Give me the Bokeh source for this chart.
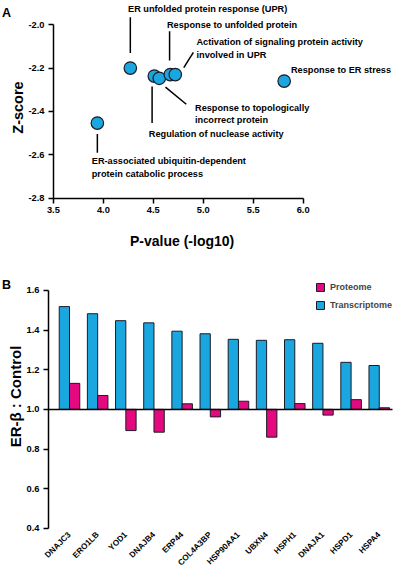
import numpy as np
from math import pi
from bokeh.plotting import figure
from bokeh.models import (ColumnDataSource, Range1d, FixedTicker, PrintfTickFormatter,
                          Label, Legend, LegendItem, LinearAxis)
from bokeh.layouts import column
from bokeh.embed import file_html
from bokeh.resources import INLINE
from bokeh.core.properties import value

# ---------------- data: panel A ----------------
terms = [
    "ER unfolded protein response (UPR)",
    "Regulation of nuclease activity",
    "Response to topologically\nincorrect protein",
    "Response to unfolded protein",
    "Activation of signaling protein activity\ninvolved in UPR",
    "Response to ER stress",
    "ER-associated ubiquitin-dependent\nprotein catabolic process",
]
pvalue_log10 = [4.27, 4.51, 4.56, 4.67, 4.72, 5.81, 3.94]
zscore = [-2.20, -2.237, -2.247, -2.23, -2.23, -2.26, -2.454]
x_ticks_a = [3.5, 4.0, 4.5, 5.0, 5.5, 6.0]
y_ticks_a = [-2.8, -2.6, -2.4, -2.2, -2.0]

# ---------------- data: panel B ----------------
genes = ["DNAJC3", "ERO1LB", "YOD1", "DNAJB4", "ERP44", "COL4A3BP",
         "HSP90AA1", "UBXN4", "HSPH1", "DNAJA1", "HSPD1", "HSPA4"]
transcriptome = [1.518, 1.482, 1.447, 1.436, 1.394, 1.381,
                 1.353, 1.348, 1.351, 1.333, 1.237, 1.221]
proteome = [1.131, 1.070, 0.893, 0.885, 1.028, 0.962,
            1.041, 0.860, 1.029, 0.971, 1.049, 1.008]
y_ticks_b = [0.4, 0.6, 0.8, 1.0, 1.2, 1.4, 1.6]
baseline = 1.0

# ---------------- styles ----------------
FONT = "Liberation Sans"
BLUE = "#1AA7E0"
PINK = "#E4097F"
EDGE = "#1c1c28"
W = 395

# label layout (screen pixel offsets relative to each point; y downwards)
text_dx = [-2.3, -5.5, 35.7, -3.3, 21.2, 6.8, -5.6]
text_dy = [-58.6, 57.4, 35.5, -49.1, -26.2, -10.9, 44.3]
lead = [  # (dx0, dy0, dx1, dy1) in px, None = no leader
    (0.0, -50.8, 0.0, -15.1),
    (-2.2, 10.3, -2.2, 47.0),
    (6.2, 8.8, 27.0, 26.0),
    (-0.7, -43.3, -0.7, -14.1),
    (18.1, -22.3, 8.5, -7.0),
    None,
    (0.0, 10.8, 0.0, 29.7),
]


def style_axis(ax, label_size="9.3px"):
    ax.axis_line_width = 1.5
    ax.axis_line_color = "black"
    ax.major_tick_line_width = 1.5
    ax.major_tick_line_color = "black"
    ax.major_tick_in = 0
    ax.major_tick_out = 5
    ax.minor_tick_line_color = None
    ax.major_label_text_font = FONT
    ax.major_label_text_font_style = "bold"
    ax.major_label_text_font_size = label_size
    ax.major_label_text_color = "black"
    ax.major_label_standoff = 4


def base_fig(w, h, xr, yr):
    p = figure(width=w, height=h, x_range=xr, y_range=yr,
               output_backend="svg", toolbar_location=None,
               min_border_left=0, min_border_right=0,
               min_border_top=0, min_border_bottom=0)
    p.xgrid.visible = False
    p.ygrid.visible = False
    p.outline_line_color = None
    return p


def screen_label(p, h, x, y_from_top, text, size, angle=0.0, align="left"):
    p.add_layout(Label(x=x, y=h - y_from_top, x_units="screen", y_units="screen",
                       text=text, angle=angle, text_font=FONT, text_font_style="bold",
                       text_font_size=size, text_color="black",
                       text_align=align, text_baseline="alphabetic"))


# ---------------- panel A ----------------
A_H = 272
ppx_a, ppy_a = 99.9, 216.5          # px per data unit
ax_left_px, ax_bottom_px = 52.9, 197.5  # where the axes sit
xa0 = x_ticks_a[0] - ax_left_px / ppx_a
ya0 = y_ticks_a[0] - (A_H - ax_bottom_px) / ppy_a
pa = base_fig(W, A_H, Range1d(xa0, xa0 + W / ppx_a), Range1d(ya0, ya0 + A_H / ppy_a))
for ax in (pa.xaxis + pa.yaxis):
    style_axis(ax)
pa.xaxis.fixed_location = y_ticks_a[0]
pa.yaxis.fixed_location = x_ticks_a[0]
pa.xaxis.bounds = (x_ticks_a[0], x_ticks_a[-1])
pa.yaxis.bounds = (y_ticks_a[0], y_ticks_a[-1])
pa.xaxis.ticker = FixedTicker(ticks=x_ticks_a)
pa.yaxis.ticker = FixedTicker(ticks=y_ticks_a)
pa.xaxis.formatter = PrintfTickFormatter(format="%.1f")
pa.yaxis.formatter = PrintfTickFormatter(format="%.1f")

x0s, y0s, x1s, y1s = [], [], [], []
for i, ld in enumerate(lead):
    if ld is None:
        continue
    dx0, dy0, dx1, dy1 = ld
    x0s.append(pvalue_log10[i] + dx0 / ppx_a)
    y0s.append(zscore[i] - dy0 / ppy_a)
    x1s.append(pvalue_log10[i] + dx1 / ppx_a)
    y1s.append(zscore[i] - dy1 / ppy_a)
pa.segment(x0=x0s, y0=y0s, x1=x1s, y1=y1s, line_color="black", line_width=1.5)

src_a = ColumnDataSource(dict(x=pvalue_log10, y=zscore, text=terms, dx=text_dx, dy=text_dy))
pa.scatter("x", "y", source=src_a, size=12.5, fill_color=BLUE, line_color=EDGE, line_width=1.2)
pa.text("x", "y", text="text", x_offset="dx", y_offset="dy", source=src_a,
        text_font=value(FONT), text_font_style="bold", text_font_size="9.2px",
        text_align="left", text_baseline="middle", text_line_height=1.25,
        text_color="black")

screen_label(pa, A_H, 181.6, 240.6, "P-value (-log10)", "14px", align="center")
screen_label(pa, A_H, 17.3, 107.0, "Z-score", "14.5px", angle=pi / 2, align="center")
screen_label(pa, A_H, 1.6, 12.9, "A", "12.5px")

# ---------------- panel B ----------------
B_H = 296
ppx_b, ppy_b = 28.16, 198.4
first_center_px = 69.0
yaxis_px, axis_bottom_px, base_end_px = 48.0, 255.9, 392.0
xb0 = -first_center_px / ppx_b
yb0 = y_ticks_b[0] - (B_H - axis_bottom_px) / ppy_b
pb = base_fig(W, B_H, Range1d(xb0, xb0 + W / ppx_b), Range1d(yb0, yb0 + B_H / ppy_b))
yaxis_loc = xb0 + yaxis_px / ppx_b
base_end = xb0 + base_end_px / ppx_b

for ax in (pb.xaxis + pb.yaxis):
    style_axis(ax)
pb.yaxis.fixed_location = yaxis_loc
pb.yaxis.bounds = (y_ticks_b[0], y_ticks_b[-1])
pb.yaxis.ticker = FixedTicker(ticks=y_ticks_b)
pb.yaxis.formatter = PrintfTickFormatter(format="%.1f")

idx = np.arange(len(genes))
pb.xaxis.fixed_location = y_ticks_b[0]
pb.xaxis.ticker = FixedTicker(ticks=list(idx))
pb.xaxis.major_label_overrides = {int(i): g for i, g in zip(idx, genes)}
pb.xaxis.major_label_orientation = pi / 4
pb.xaxis.axis_line_color = None
pb.xaxis.major_tick_line_color = None
pb.xaxis.major_tick_out = 0
pb.xaxis.major_label_text_font_size = "8.2px"
pb.xaxis.major_label_standoff = 5

# baseline (ratio = 1) drawn as a plain axis line
base_axis = LinearAxis(fixed_location=baseline, bounds=(yaxis_loc, base_end),
                       ticker=FixedTicker(ticks=[]), axis_line_width=1.5,
                       axis_line_color="black", major_tick_line_color=None,
                       minor_tick_line_color=None, major_label_text_font_size="0px")
pb.add_layout(base_axis, "below")

bw = 0.365
src_b = ColumnDataSource(dict(xt=idx - bw / 2, xp=idx + bw / 2,
                              t=transcriptome, pr=proteome))
rt = pb.vbar(x="xt", top="t", bottom=baseline, width=bw, source=src_b,
             fill_color=BLUE, line_color=EDGE, line_width=1)
rp = pb.vbar(x="xp", top="pr", bottom=baseline, width=bw, source=src_b,
             fill_color=PINK, line_color=EDGE, line_width=1)

legend = Legend(items=[LegendItem(label="Proteome", renderers=[rp]),
                       LegendItem(label="Transcriptome", renderers=[rt])],
                location=(315.0, B_H - 37.7), border_line_color=None,
                background_fill_alpha=0, padding=0, margin=0, spacing=8,
                glyph_width=10, glyph_height=10, label_height=10, label_standoff=5,
                label_text_font=FONT, label_text_font_style="bold",
                label_text_font_size="9px", label_text_baseline="middle")
pb.add_layout(legend)

screen_label(pb, B_H, 15.0, 124.0, "ER-\u03b2 : Control", "15px", angle=pi / 2, align="center")
screen_label(pb, B_H, 1.6, 12.6, "B", "12.5px")

layout = column(pa, pb, spacing=0)
open("out.html", "w").write(file_html(layout, INLINE))
